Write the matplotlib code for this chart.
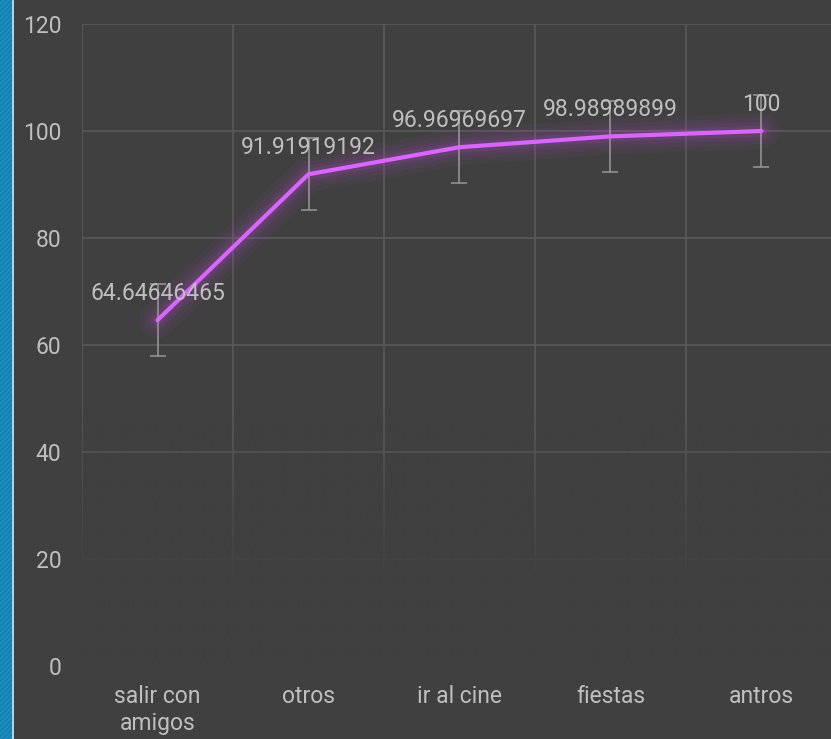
import numpy as np
import matplotlib
matplotlib.use("Agg")
import matplotlib.pyplot as plt

# data
categories = ["salir con\namigos", "otros", "ir al cine", "fiestas", "antros"]
values = [64.64646465, 91.91919192, 96.96969697, 98.98989899, 100]
value_labels = ["64.64646465", "91.91919192", "96.96969697", "98.98989899", "100"]
errors = [6.7, 6.7, 6.7, 6.7, 6.7]
yticks = [0, 20, 40, 60, 80, 100, 120]

bg = "#404040"
text_col = "#BFBFBF"
line_col = "#D966FF"

plt.rcParams['font.family'] = ['Roboto', 'DejaVu Sans']

fig = plt.figure(figsize=(8.31, 7.39), dpi=100)
fig.patch.set_facecolor(bg)

# blue striped strip on the left edge
strip = fig.add_axes([0, 0, 12 / 831, 1])
yy, xx = np.mgrid[0:739, 0:12]
pattern = ((xx + yy) % 5 < 2).astype(float)
c1 = np.array([0x1C, 0x8D, 0xBF]) / 255
c2 = np.array([0x15, 0x7C, 0xAC]) / 255
img = c1 * (1 - pattern[..., None]) + c2 * pattern[..., None]
strip.imshow(img, aspect='auto', interpolation='nearest')
strip.axis('off')
edge = fig.add_axes([12 / 831, 0, 2 / 831, 1])
edge.set_facecolor("#A9D3EA")
edge.set_xticks([])
edge.set_yticks([])
for s in edge.spines.values():
    s.set_visible(False)

ax = fig.add_axes([82 / 831, 73 / 739, 755 / 831, 642 / 739])
ax.set_facecolor(bg)
x = np.arange(len(categories))

ax.set_yticks(yticks)
ax.set_xticks(x)
ax.set_xticklabels(categories, color=text_col, fontsize=16.5, linespacing=1.2)
ax.set_yticklabels([str(t) for t in yticks], color=text_col, fontsize=16.5)
ax.tick_params(axis='both', length=0)
ax.tick_params(axis='y', pad=15)
ax.tick_params(axis='x', pad=14)

# vertical grid at category boundaries, horizontal at ticks
for b in np.arange(-0.5, len(categories) + 0.5, 1):
    ax.axvline(b, color="#5A5A5A", lw=1.2, zorder=0.5)
for t in yticks:
    ax.axhline(t, color="#5A5A5A", lw=1.2, zorder=0.5)
for s in ax.spines.values():
    s.set_visible(False)

# fade the grid out towards the bottom
t = np.linspace(0, 1, 256)
fade = np.clip((t - 0.60) / 0.28, 0, 1)[:, None]
overlay = np.zeros((256, 1, 4))
overlay[..., :3] = np.array([0x40, 0x40, 0x40]) / 255
overlay[..., 3] = fade
ax.imshow(overlay, extent=(-0.5, len(categories) - 0.5, 0, 120), origin='upper',
          aspect='auto', zorder=0.8, interpolation='bilinear')
ax.set_xlim(-0.5, len(categories) - 0.5)
ax.set_ylim(0, 120)

# glow
for lw, a in [(26, 0.06), (19, 0.08), (13, 0.11), (8, 0.15)]:
    ax.plot(x, values, color="#A848C0", lw=lw, alpha=a, solid_capstyle='round',
            solid_joinstyle='round', zorder=2)

ax.errorbar(x, values, yerr=errors, fmt='none', ecolor="#9A9A9A", elinewidth=1.1,
            capsize=6, capthick=1.1, zorder=2.5)
ax.plot(x, values, color=line_col, lw=3, solid_capstyle='round', zorder=3)

for xi, v, lab in zip(x, values, value_labels):
    ax.annotate(lab, (xi, v), xytext=(0, 14.5), textcoords='offset points',
                ha='center', va='baseline', color=text_col, fontsize=16.5, zorder=4)

fig.savefig("out.png", dpi=100, facecolor=bg)
